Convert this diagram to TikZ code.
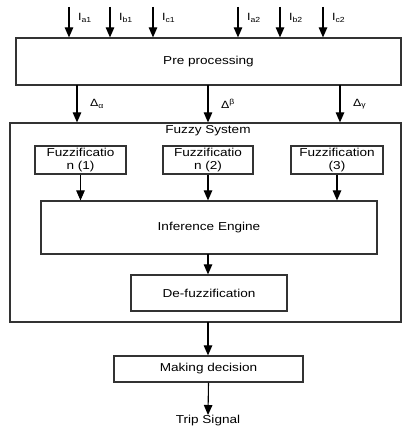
\documentclass[tikz,border=0pt]{standalone}
\usepackage{fontspec}
\setmainfont{Liberation Sans}[FakeStretch=1.18]
\usetikzlibrary{arrows.meta}
\begin{document}
\begin{tikzpicture}[x=1pt,y=-1pt,
  blk/.style={draw=black!80,line width=1.2pt,inner sep=0pt,font=\fontsize{11.5}{13}\selectfont,align=center},
  arr/.style={-{Triangle[length=10pt,width=8.5pt]},line width=1.1pt},
  lbl/.style={font=\fontsize{10.5}{12}\selectfont,anchor=west,inner sep=0pt}]
\useasboundingbox (0,0) rectangle (403,428);
\node[blk,minimum width=385pt,minimum height=47pt] (pre) at (208.5,61.5) {Pre processing};
\node[blk,minimum width=391pt,minimum height=199pt] (fs) at (205.5,222.5) {};
\node[font=\fontsize{11.5}{13}\selectfont,inner sep=0pt] (fst) at (208,131) {Fuzzy System};
\node[blk,minimum width=91pt,minimum height=28pt] (fz1) at (80.5,160) {Fuzzificatio\\n (1)};
\node[blk,minimum width=90pt,minimum height=28pt] (fz2) at (208,160) {Fuzzificatio\\n (2)};
\node[blk,minimum width=92pt,minimum height=28pt] (fz3) at (337,160) {Fuzzification\\(3)};
\node[blk,minimum width=336pt,minimum height=53pt] (inf) at (209,227.5) {Inference Engine};
\node[blk,minimum width=156pt,minimum height=36pt] (dfz) at (209,293) {De-fuzzification};
\node[blk,minimum width=189pt,minimum height=26pt] (mk) at (208.5,369) {Making decision};
\node[font=\fontsize{11.5}{13}\selectfont,inner sep=0pt,anchor=north] (trip) at (208,415) {Trip Signal};
% inputs
\foreach \x/\n/\s in {69/a1/a1,110/b1/b1,153/c1/c1,238/a2/a2,280/b2/b2,323/c2/c2}{
  \coordinate (in\n) at (\x,7);
  \draw[arr] (in\n) -- (in\n |- pre.north);
  \node[lbl] (l\n) at (\x+9,18) {I\textsubscript{\s}};
}
% outputs of pre processing
\foreach \x/\n/\t in {77/a/{Δ\textsubscript{α}},208/b/{Δ\textsuperscript{β}},340/c/{Δ\textsubscript{γ}}}{
  \coordinate (o\n) at (\x,85);
  \draw[arr] (o\n) -- (o\n |- fs.north);
  \node[lbl] (d\n) at (\x+13,104) {\t};
}
\draw[arr] (fz1.south) -- (fz1.south |- inf.north);
\draw[arr] (fz2.south) -- (fz2.south |- inf.north);
\draw[arr] (fz3.south) -- (fz3.south |- inf.north);
\coordinate (ie) at (208,254);
\draw[arr] (ie) -- (ie |- dfz.north);
\coordinate (fe) at (208,322);
\draw[arr] (fe) -- (fe |- mk.north);
\draw[arr] (mk.south) -- (trip.north);
\end{tikzpicture}
\end{document}
